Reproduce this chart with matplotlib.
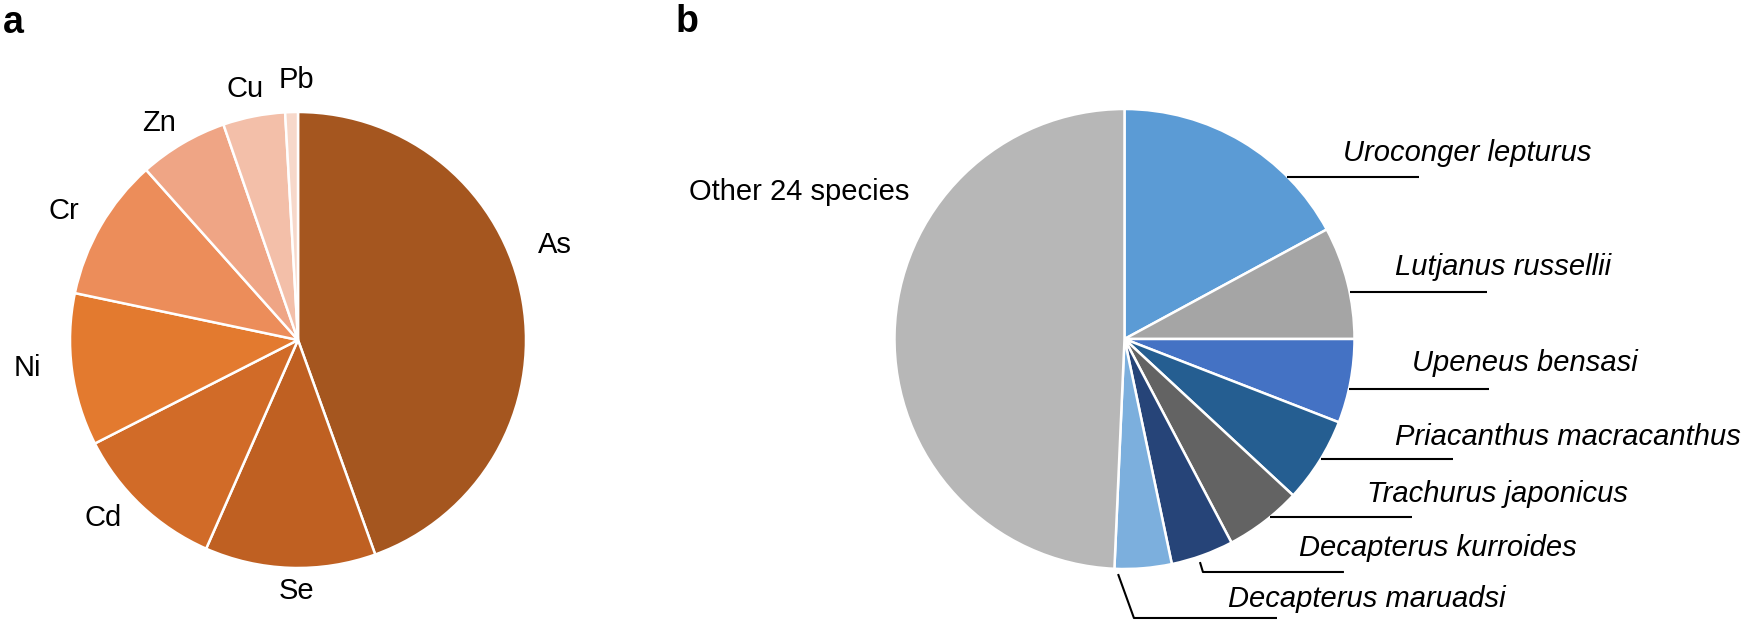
import numpy as np
import matplotlib
matplotlib.use('Agg')
import matplotlib.pyplot as plt

plt.rcParams['font.family'] = ['Liberation Sans', 'DejaVu Sans']

# panel a: share of each metal
metals = ['As', 'Se', 'Cd', 'Ni', 'Cr', 'Zn', 'Cu', 'Pb']
metal_share = [44.5, 12.1, 10.9, 10.8, 10.1, 6.3, 4.4, 0.9]
metal_colors = ['#a5561f', '#bf6022', '#d16b28', '#e37a2f',
                '#ec8d5a', '#efa585', '#f3bfa9', '#f7d8ca']

# panel b: share of each species
species = ['Uroconger lepturus', 'Lutjanus russellii', 'Upeneus bensasi',
           'Priacanthus macracanthus', 'Trachurus japonicus',
           'Decapterus kurroides', 'Decapterus maruadsi', 'Other 24 species']
species_share = [17.1, 7.9, 5.9, 6.0, 5.4, 4.4, 4.0, 49.3]
species_colors = ['#5b9bd5', '#a5a5a5', '#4472c4', '#255e91',
                  '#636363', '#264478', '#7cafdd', '#b7b7b7']

# label placement, in pie-radius units
metal_label_xy = [(1.126, 0.415), (-0.007, -1.103), (-0.855, -0.78),
                  (-1.185, -0.122), (-1.028, 0.564), (-0.609, 0.953),
                  (-0.23, 1.099), (-0.007, 1.14)]
# text x (left edge), text y, leader polyline
species_label = [
    (0.95, 0.81, [(None, 0.706), (1.279, 0.706)]),
    (1.176, 0.314, [(None, 0.206), (1.576, 0.206)]),
    (1.252, -0.104, [(None, -0.217), (1.585, -0.217)]),
    (1.176, -0.425, [(None, -0.522), (1.428, -0.522)]),
    (1.054, -0.674, [(None, -0.774), (1.25, -0.774)]),
    (0.759, -0.907, [(0.328, -0.97), (0.341, -1.013), (0.954, -1.013)]),
    (0.45, -1.13, [(-0.028, -1.022), (0.041, -1.213), (0.663, -1.213)]),
]

W, H = 1750, 623
fig = plt.figure(figsize=(W / 100, H / 100), dpi=100)


def pie_axes(cx, cy, r, x0, x1):
    ax = fig.add_axes([x0 / W, 0, (x1 - x0) / W, 1])
    return ax, ((x0 - cx) / r, (x1 - cx) / r), (-(H - cy) / r, cy / r)


def finish(ax, xl, yl):
    ax.set_aspect('auto')
    ax.set_xlim(*xl)
    ax.set_ylim(*yl)
    ax.axis('off')


wedge_style = dict(edgecolor='white', linewidth=1.8)

# ---- panel a
ax, xl, yl = pie_axes(298, 340, 228, 0, 640)
ax.pie(metal_share, colors=metal_colors, startangle=90, counterclock=False,
       wedgeprops=wedge_style)
for name, (x, y) in zip(metals, metal_label_xy):
    ax.text(x, y, name, ha='center', va='center', fontsize=21)
finish(ax, xl, yl)

# ---- panel b
ax, xl, yl = pie_axes(1124.5, 339, 230, 640, 1750)
ax.pie(species_share, colors=species_colors, startangle=90, counterclock=False,
       wedgeprops=wedge_style)
for name, (tx, ty, pts) in zip(species[:-1], species_label):
    xs = [np.sqrt(1 - p[1] ** 2) if p[0] is None else p[0] for p in pts]
    ys = [p[1] for p in pts]
    ax.plot(xs, ys, color='black', lw=1.5, solid_capstyle='butt')
    ax.text(tx, ty, name, ha='left', va='center', fontsize=21, style='italic')
ax.text(-0.937, 0.639, species[-1], ha='right', va='center', fontsize=21)
finish(ax, xl, yl)

fig.text(3 / W, 1 - 33 / H, 'a', fontsize=27, fontweight='bold', va='baseline')
fig.text(676 / W, 1 - 32 / H, 'b', fontsize=27, fontweight='bold', va='baseline')

fig.savefig('out.png', dpi=100)
